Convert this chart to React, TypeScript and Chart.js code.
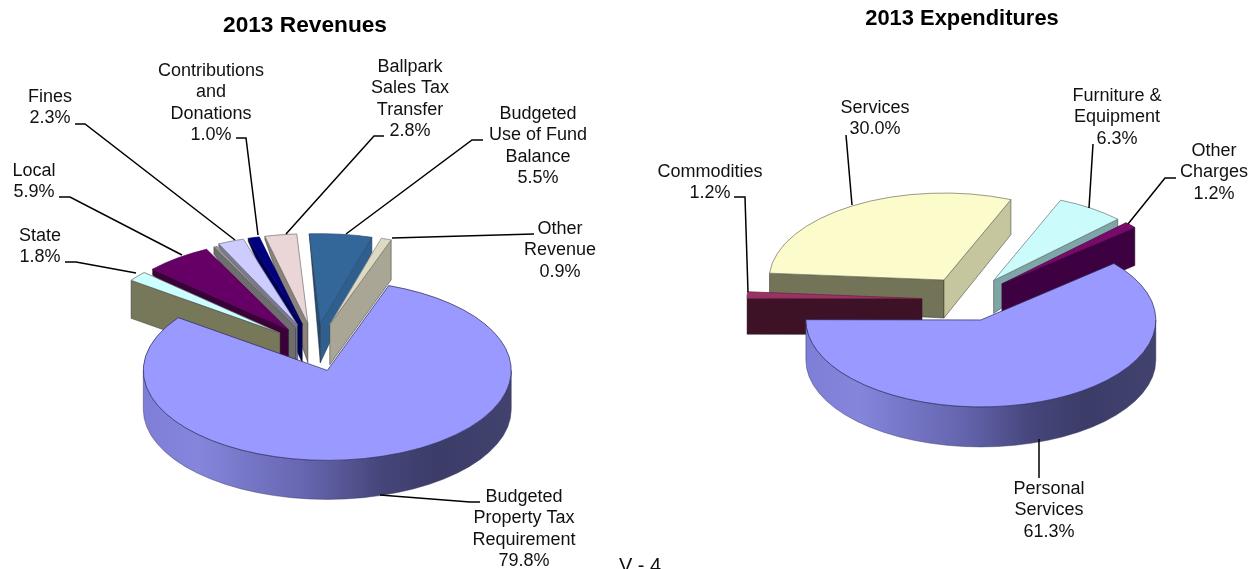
import React, { useEffect, useRef } from "react";
import { Chart, registerables } from "chart.js";

Chart.register(...registerables);

// ---------- data ----------
const revenueCategories: string[][] = [
  ["Budgeted", "Property Tax", "Requirement"],
  ["State"],
  ["Local"],
  ["Unlabelled"],
  ["Fines"],
  ["Contributions", "and", "Donations"],
  ["Ballpark", "Sales Tax", "Transfer"],
  ["Budgeted", "Use of Fund", "Balance"],
  ["Other", "Revenue"],
];
const revenueValues = [79.8, 1.8, 5.9, 0.3, 2.3, 1.0, 2.8, 5.5, 0.9];

const expenditureCategories: string[][] = [
  ["Personal", "Services"],
  ["Commodities"],
  ["Services"],
  ["Furniture &", "Equipment"],
  ["Other", "Charges"],
];
const expenditureValues = [61.3, 1.2, 30.0, 6.3, 1.2];

const revenueTitle = "2013 Revenues";
const expenditureTitle = "2013 Expenditures";
const pageNumber = "V - 4";

// ---------- styling ----------
const FONT = '"Liberation Sans", Arial, sans-serif';
type Side = [string, number, number]; // colour, depth at rim, depth at apex
interface Wall { start?: Side; end?: Side; }

const revenueTop = ["#9999FF", "#CCFFFF", "#660066", "#969696", "#CCCCFF", "#000080", "#EAD6D6", "#336699", "#DDD9C3"];
const revenueEdge = ["#2E2E5C", "#666666", "#4a004a", "#666666", "#77778a", "#000060", "#777777", "#2a4f78", "#888888"];
const revenueExplode = [48, 45, 44, 44, 48, 48, 48, 48, 48];
const revenueWalls: Wall[] = [
  {},
  { start: ["#77775A", 38, 38] },
  { start: ["#3A0038", 6, 39] },
  { start: ["#6E6E6E", 7, 39] },
  { start: ["#7B7B90", 3, 39] },
  { start: ["#00005A", 3, 39] },
  { start: ["#8B8279", 3, 39] },
  { start: ["#254D75", 0, 39], end: ["#2F5F8F", 15, 39] },
  { end: ["#A9A695", 40, 40] },
];

const expenditureTop = ["#9999FF", "#993366", "#FBFBCC", "#CCFBFB", "#7A0A6A"];
const expenditureEdge = ["#2E2E5C", "#702040", "#777766", "#668080", "#4a004a"];
const expenditureExplode = [46, 46, 46, 46, 46];
const expenditureWalls: Wall[] = [
  {},
  { start: ["#3E1226", 36, 36] },
  { start: ["#737358", 36, 38], end: ["#C6C69E", 35, 38] },
  { end: ["#7FA6A6", 8, 33] },
  { end: ["#3D0040", 38, 38] },
];

const rimStops: [number, string][] = [
  [0, "#7E7ED8"],
  [0.15, "#8585DC"],
  [0.45, "#6464AE"],
  [0.65, "#45457A"],
  [0.8, "#3C3C68"],
  [1, "#42426E"],
];

// ---------- callout layout ----------
interface Callout { slice: number; x: number; y: number; leader: number[][]; }
const LINE = 21.3;
const revenueCallouts: Callout[] = [
  { slice: 0, x: 524, y: 502, leader: [[480, 502], [470, 502], [380, 495]] },
  { slice: 1, x: 40, y: 241, leader: [[65, 262], [76, 262], [136, 273]] },
  { slice: 2, x: 34, y: 176, leader: [[59, 197], [70, 197], [182, 255]] },
  { slice: 4, x: 50, y: 102, leader: [[75, 124], [85, 124], [235, 240]] },
  { slice: 5, x: 211, y: 76, leader: [[236, 138], [246, 138], [258, 235]] },
  { slice: 6, x: 410, y: 72, leader: [[384, 136], [374, 136], [286, 234]] },
  { slice: 7, x: 538, y: 119, leader: [[483, 140], [472, 140], [346, 234]] },
  { slice: 8, x: 560, y: 234, leader: [[534, 234], [392, 238]] },
];
const expenditureCallouts: Callout[] = [
  { slice: 0, x: 1049, y: 494, leader: [[1039, 478], [1039, 439]] },
  { slice: 1, x: 710, y: 177, leader: [[734, 197], [745, 197], [748, 292]] },
  { slice: 2, x: 875, y: 113, leader: [[846, 135], [852, 205]] },
  { slice: 3, x: 1117, y: 101, leader: [[1093, 144], [1089, 208]] },
  { slice: 4, x: 1214, y: 156, leader: [[1176, 178], [1165, 178], [1128, 224]] },
];

interface PieSpec {
  name: string;
  categories: string[][];
  values: number[];
  top: string[];
  edge: string[];
  walls: Wall[];
  explodeBy: number[];
  callouts: Callout[];
  title: string;
  titleX: number;
  titleY: number;
  titleSize: number;
  cx: number;
  cy: number;
  radius: number;
  squash: number;
  rimDepth: number;
  rotation: number;
  halfW: number;
  mainNudge: [number, number];
}

const specs: PieSpec[] = [
  {
    name: "rev", categories: revenueCategories, values: revenueValues, top: revenueTop, edge: revenueEdge,
    walls: revenueWalls, explodeBy: revenueExplode, callouts: revenueCallouts, title: revenueTitle,
    titleX: 305, titleY: 32, titleSize: 22.7,
    cx: 315, cy: 347, radius: 184, squash: 0.489, rimDepth: 39, rotation: 19.5, halfW: 315, mainNudge: [-2, 1],
  },
  {
    name: "exp", categories: expenditureCategories, values: expenditureValues, top: expenditureTop, edge: expenditureEdge,
    walls: expenditureWalls, explodeBy: expenditureExplode, callouts: expenditureCallouts, title: expenditureTitle,
    titleX: 962, titleY: 25, titleSize: 21.9,
    cx: 968, cy: 299.5, radius: 175, squash: 0.497, rimDepth: 40, rotation: 49.5, halfW: 320, mainNudge: [-3, -1],
  },
];

function makePlugin(spec: PieSpec) {
  return {
    id: "pie3d",
    beforeDatasetDraw(chart: any) {
      const ctx: CanvasRenderingContext2D = chart.ctx;
      const arcs: any[] = chart.getDatasetMeta(0).data;
      const k = spec.squash;
      const order = arcs
        .map((a, i) => ({ a, i, mid: (a.startAngle + a.endAngle) / 2 }))
        .sort((p, q) => Math.sin(p.mid) - Math.sin(q.mid));
      for (const { a, i, mid } of order) {
        ctx.save();
        if (i === 0) ctx.translate(spec.mainNudge[0], spec.mainNudge[1]);
        ctx.translate(a.x, a.y);
        ctx.scale(1, k);
        ctx.translate(-a.x, -a.y);
        const ex = spec.explodeBy[i];
        ctx.translate(Math.cos(mid) * ex, Math.sin(mid) * ex);
        const R = a.outerRadius;
        const wall = spec.walls[i];
        // outer rim: only the part facing the viewer
        if (i === 0) {
          const D = spec.rimDepth / k;
          const g = ctx.createLinearGradient(a.x - R, 0, a.x + R, 0);
          rimStops.forEach(([o, c]) => g.addColorStop(o, c));
          for (let n = -1; n <= 1; n++) {
            const lo = Math.max(a.startAngle, 2 * Math.PI * n);
            const hi = Math.min(a.endAngle, 2 * Math.PI * n + Math.PI);
            if (hi <= lo) continue;
            ctx.beginPath();
            ctx.arc(a.x, a.y, R, lo, hi);
            ctx.arc(a.x, a.y + D, R, hi, lo, true);
            ctx.closePath();
            ctx.fillStyle = g;
            ctx.fill();
            ctx.lineWidth = 0.6;
            ctx.strokeStyle = "#34345e";
            ctx.stroke();
          }
        }
        const side = (s: Side | undefined, ang: number) => {
          if (!s) return;
          const [col, dRim, dApex] = s;
          const ox = a.x + Math.cos(ang) * R;
          const oy = a.y + Math.sin(ang) * R;
          ctx.beginPath();
          ctx.moveTo(a.x, a.y);
          ctx.lineTo(ox, oy);
          ctx.lineTo(ox, oy + dRim / k);
          ctx.lineTo(a.x, a.y + dApex / k);
          ctx.closePath();
          ctx.fillStyle = col;
          ctx.fill();
          ctx.lineWidth = 0.8;
          ctx.strokeStyle = "rgba(30,30,30,0.75)";
          ctx.stroke();
        };
        side(wall.start, a.startAngle);
        side(wall.end, a.endAngle);
        a.draw(ctx, chart.chartArea);
        ctx.restore();
      }
      return false;
    },
    afterDraw(chart: any) {
      const ctx: CanvasRenderingContext2D = chart.ctx;
      const ox = spec.cx - spec.halfW;
      ctx.save();
      ctx.translate(-ox, 0);
      ctx.textAlign = "center";
      ctx.textBaseline = "alphabetic";
      ctx.fillStyle = "#000";
      ctx.font = `bold ${spec.titleSize}px ${FONT}`;
      ctx.fillText(spec.title, spec.titleX, spec.titleY);
      ctx.font = `18px ${FONT}`;
      ctx.fillStyle = "#111";
      for (const c of spec.callouts) {
        const lines = [...spec.categories[c.slice], `${spec.values[c.slice].toFixed(1)}%`];
        lines.forEach((t, n) => ctx.fillText(t, c.x, c.y + n * LINE));
        ctx.beginPath();
        c.leader.forEach(([x, y], n) => (n ? ctx.lineTo(x, y) : ctx.moveTo(x, y)));
        ctx.lineWidth = 1.5;
        ctx.strokeStyle = "#000";
        ctx.stroke();
      }
      ctx.restore();
    },
  };
}

function Pie({ spec }: { spec: PieSpec }) {
  const ref = useRef<HTMLCanvasElement>(null);
  useEffect(() => {
    const chart = new Chart(ref.current as HTMLCanvasElement, {
      type: "pie",
      data: {
        labels: spec.categories as any,
        datasets: [
          {
            data: spec.values,
            backgroundColor: spec.top,
            borderColor: spec.edge,
            borderWidth: 1,
            clip: false as any,
          },
        ],
      },
      options: {
        responsive: false,
        animation: false,
        events: [],
        rotation: spec.rotation,
        radius: spec.radius,
        layout: { padding: 0 },
        plugins: { legend: { display: false }, tooltip: { enabled: false }, title: { display: false } },
      } as any,
      plugins: [makePlugin(spec) as any],
    });
    return () => chart.destroy();
  }, [spec]);
  return (
    <canvas
      ref={ref}
      width={spec.halfW * 2}
      height={spec.cy * 2}
      style={{ position: "absolute", left: spec.cx - spec.halfW, top: 0, display: "block" }}
    />
  );
}

export default function App() {
  return (
    <div style={{ position: "fixed", left: 0, top: 0, width: 1257, height: 569, overflow: "hidden", background: "#fff" }}>
      {specs.map((s) => (
        <Pie key={s.name} spec={s} />
      ))}
      <div
        style={{
          position: "absolute",
          left: 600,
          width: 80,
          top: 554,
          textAlign: "center",
          font: `20px/23px ${FONT}`,
          color: "#111",
          whiteSpace: "nowrap",
        }}
      >
        {pageNumber}
      </div>
    </div>
  );
}
